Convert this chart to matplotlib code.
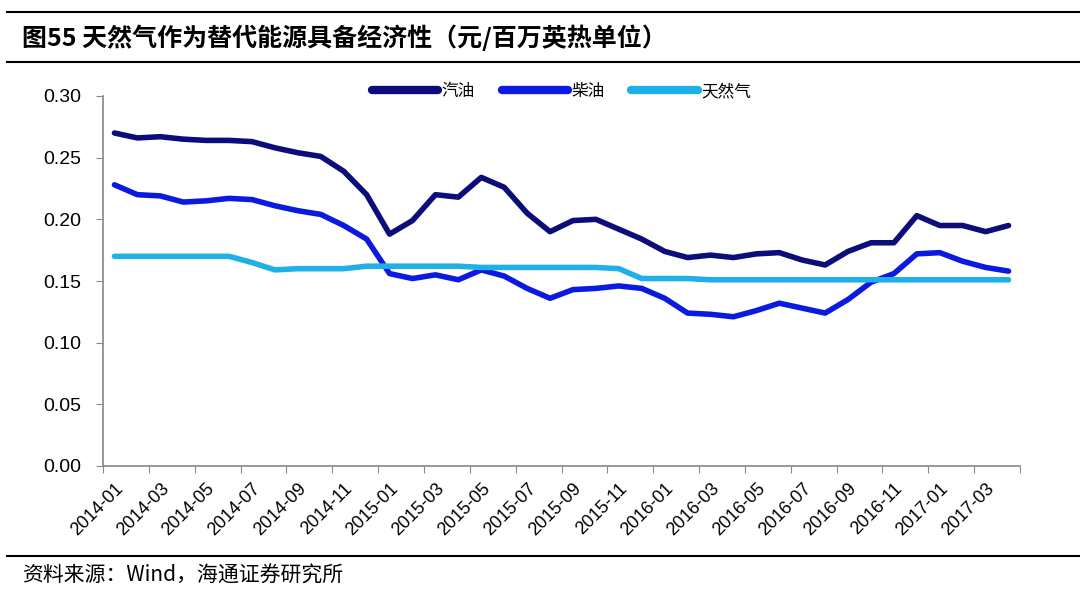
import numpy as np
from matplotlib import pyplot as plt
from matplotlib.lines import Line2D

plt.rcParams['font.family'] = ['Liberation Sans', 'Noto Sans CJK SC', 'DejaVu Sans']

# monthly data 2014-01 .. 2017-04
months = [f'{y}-{m:02d}' for y in range(2014, 2018) for m in range(1, 13)][:40]

gasoline = [0.270, 0.266, 0.267, 0.265, 0.264, 0.264, 0.263, 0.258, 0.254, 0.251,
            0.239, 0.220, 0.188, 0.199, 0.220, 0.218, 0.234, 0.226, 0.205, 0.190,
            0.199, 0.200, 0.192, 0.184, 0.174, 0.169, 0.171, 0.169, 0.172, 0.173,
            0.167, 0.163, 0.174, 0.181, 0.181, 0.203, 0.195, 0.195, 0.190, 0.195]
diesel = [0.228, 0.220, 0.219, 0.214, 0.215, 0.217, 0.216, 0.211, 0.207, 0.204,
          0.195, 0.184, 0.156, 0.152, 0.155, 0.151, 0.159, 0.154, 0.144, 0.136,
          0.143, 0.144, 0.146, 0.144, 0.136, 0.124, 0.123, 0.121, 0.126, 0.132,
          0.128, 0.124, 0.135, 0.149, 0.156, 0.172, 0.173, 0.166, 0.161, 0.158]
natgas = [0.170, 0.170, 0.170, 0.170, 0.170, 0.170, 0.165, 0.159, 0.160, 0.160,
          0.160, 0.162, 0.162, 0.162, 0.162, 0.162, 0.161, 0.161, 0.161, 0.161,
          0.161, 0.161, 0.160, 0.152, 0.152, 0.152, 0.151, 0.151, 0.151, 0.151,
          0.151, 0.151, 0.151, 0.151, 0.151, 0.151, 0.151, 0.151, 0.151, 0.151]

series_names = ['汽油', '柴油', '天然气']
colors = ['#0c0c7a', '#0a1ae0', '#1eb0e6']

#%%
fig = plt.figure(figsize=(10.8, 5.96), dpi=100)
ax = fig.add_axes([103/1080, 1-466/596, (1020-103)/1080, (466-96)/596])

x = np.arange(len(months))
for vals, name, c in zip([gasoline, diesel, natgas], series_names, colors):
    ax.plot(x, vals, color=c, lw=4, solid_capstyle='round', solid_joinstyle='round', label=name)

ax.set_xlim(-0.5, len(months) - 0.5)
ax.set_ylim(0, 0.30)
ax.set_yticks(np.arange(0, 0.301, 0.05))
ax.set_yticklabels([f'{v:.2f}' for v in np.arange(0, 0.301, 0.05)], fontsize=14)

# ticks at category borders, labels at category centres
ax.set_xticks(np.arange(-0.5, len(months), 2))
ax.set_xticklabels([])
ax.set_xticks(x[::2], minor=True)
ax.set_xticklabels(months[::2], minor=True, rotation=45, ha='right',
                   rotation_mode='anchor', fontsize=13)
ax.tick_params(axis='x', which='minor', length=0, pad=10)
ax.tick_params(axis='x', which='major', length=5, color='#888888')
ax.tick_params(axis='y', length=5, color='#888888', pad=11)

for s in ['top', 'right']:
    ax.spines[s].set_visible(False)
for s in ['left', 'bottom']:
    ax.spines[s].set_color('#888888')
    ax.spines[s].set_linewidth(1.2)

handles = [Line2D([0], [0], color=c, lw=6, solid_capstyle='round') for c in colors]
ax.legend(handles, series_names, loc='upper center', bbox_to_anchor=(0.5, 1.075),
          ncol=3, frameon=False, handlelength=4, handletextpad=0.2, columnspacing=1.6,
          prop={'family': ['Noto Sans CJK SC'], 'size': 12})

# header and footer
fig.add_artist(Line2D([7/1080, 1], [1-12/596, 1-12/596], color='black', lw=1.5))
fig.add_artist(Line2D([7/1080, 1], [1-62/596, 1-62/596], color='black', lw=1.5))
fig.add_artist(Line2D([7/1080, 1], [1-556/596, 1-556/596], color='black', lw=1.5))
fig.text(22/1080, 1-38/596, '图55 天然气作为替代能源具备经济性（元/百万英热单位）',
         fontsize=18, fontweight='bold', va='center', ha='left',
         family=['Noto Sans CJK SC', 'DejaVu Sans'])
fig.text(22/1080, 1-576/596, '资料来源：Wind，海通证券研究所', fontsize=15,
         va='center', ha='left', family=['Noto Sans CJK SC', 'DejaVu Sans'])

plt.savefig('out.png', dpi=100)
